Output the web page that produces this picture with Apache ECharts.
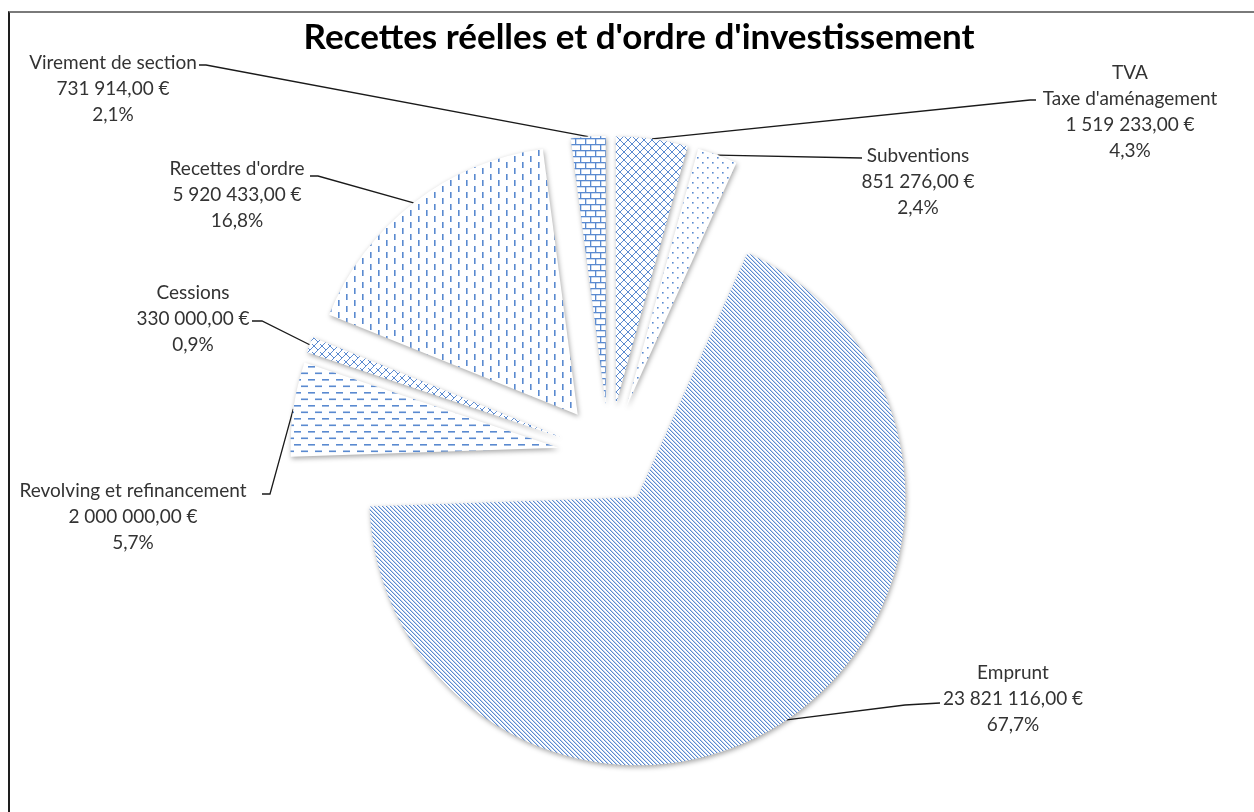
<!DOCTYPE html>
<html>
<head>
<meta charset="utf-8">
<script src="https://cdn.jsdelivr.net/npm/echarts@6/dist/echarts.min.js"></script>
<style>
  html, body { margin: 0; padding: 0; background: #fff; }
  #frame { position: absolute; left: 8px; top: 11px; width: 1400px; height: 900px;
           border-left: 2px solid #1e1e1e; border-top: 2px solid #7a7a7a; }
  #main { position: absolute; left: 0; top: 0; width: 1254px; height: 812px; }
</style>
</head>
<body>
<div id="frame"></div>
<div id="main"></div>
<script>
// data, clockwise from 12 o'clock
const categories = [
    "TVA\nTaxe d'aménagement",
    "Subventions",
    "Emprunt",
    "Revolving et refinancement",
    "Cessions",
    "Recettes d'ordre",
    "Virement de section"
];
const amounts = [1519233, 851276, 23821116, 2000000, 330000, 5920433, 731914];

// pie geometry (every slice pulled out from the center by OFF)
const CX = 609, CY = 455, R = 268, OFF = 51;
const PAT = '#5a8ad0';
const FONT = 'Lato';

// where each label sits: center x, first line y, and the leader line knee/end near the text
const labelSpots = [
    {x: 1130, y: 73, knee: [1030, 100], end: [1036, 100]},
    {x: 918, y: 156, knee: [862, 158], end: [862, 158]},
    {x: 1013, y: 673, knee: [905, 705], end: [940, 703]},
    {x: 133, y: 491, knee: [270, 494], end: [262, 494]},
    {x: 193, y: 293, knee: [262, 321], end: [252, 321]},
    {x: 237, y: 169, knee: [318, 176], end: [310, 176]},
    {x: 113, y: 63, knee: [206, 65], end: [199, 65]}
];

function makePattern(w, h, draw) {
    const c = document.createElement('canvas');
    c.width = w; c.height = h;
    const ctx = c.getContext('2d');
    ctx.fillStyle = '#ffffff';
    ctx.fillRect(0, 0, w, h);
    ctx.fillStyle = PAT;
    ctx.strokeStyle = PAT;
    ctx.lineWidth = 1;
    draw(ctx);
    return {image: c, repeat: 'repeat'};
}

const patterns = [
    // diamond lattice
    makePattern(8, 8, ctx => {
        ctx.beginPath();
        ctx.moveTo(0, 0); ctx.lineTo(8, 8);
        ctx.moveTo(8, 0); ctx.lineTo(0, 8);
        ctx.stroke();
    }),
    // sparse dots
    makePattern(10, 10, ctx => {
        ctx.fillRect(2, 2, 1.6, 1.6);
        ctx.fillRect(7, 7, 1.6, 1.6);
    }),
    // dense downward diagonal
    makePattern(4, 4, ctx => {
        for (let i = 0; i < 4; i++) {
            ctx.fillRect(i, i, 1, 1);
        }
        ctx.globalAlpha = 0.35;
        for (let i = 0; i < 4; i++) {
            ctx.fillRect((i + 1) % 4, i, 1, 1);
        }
    }),
    // horizontal dashes
    makePattern(14, 13, ctx => {
        ctx.fillRect(0, 2, 7, 1.6);
        ctx.fillRect(7, 8.5, 7, 1.6);
    }),
    // weave
    makePattern(8, 8, ctx => {
        ctx.beginPath();
        ctx.moveTo(0, 4); ctx.lineTo(4, 0);
        ctx.moveTo(4, 8); ctx.lineTo(8, 4);
        ctx.moveTo(2, 2); ctx.lineTo(6, 6);
        ctx.moveTo(0, 0); ctx.lineTo(2, 2);
        ctx.stroke();
    }),
    // vertical dashes
    makePattern(16, 12, ctx => {
        ctx.fillRect(2, 0, 1.6, 6);
        ctx.fillRect(10, 6, 1.6, 6);
    }),
    // bricks
    makePattern(10, 12, ctx => {
        ctx.fillRect(0, 0, 10, 1.3);
        ctx.fillRect(0, 6, 10, 1.3);
        ctx.fillRect(0, 0, 1.3, 6);
        ctx.fillRect(5, 6, 1.3, 6);
    })
];

const total = amounts.reduce((a, b) => a + b, 0);
let acc = 0;
const midAngles = amounts.map(v => {
    const m = (acc + v / 2) / total * 2 * Math.PI;
    acc += v;
    return m;
});

function fmtEuro(v) {
    const [i, d] = v.toFixed(2).split('.');
    return i.replace(/\B(?=(\d{3})+(?!\d))/g, ' ') + ',' + d + ' €';
}
function fmtPct(v) {
    return (v / total * 100).toFixed(1).replace('.', ',') + '%';
}

// one pie series per slice: same angles, only slice k drawn, its center pushed out along its mid angle
function sliceSeries(k) {
    const m = midAngles[k];
    return {
        type: 'pie',
        center: [CX + OFF * Math.sin(m), CY - OFF * Math.cos(m)],
        radius: [0, R],
        startAngle: 90,
        clockwise: true,
        silent: true,
        z: k === 2 ? 1 : 2,
        label: {show: false},
        labelLine: {show: false},
        labelLayout: p => {
            if (p.dataIndex !== k) return {};
            const s = labelSpots[k];
            const anchor = [CX + (R + OFF) * Math.sin(m), CY - (R + OFF) * Math.cos(m)];
            return {
                x: s.x,
                y: s.y - 13,
                align: 'center',
                verticalAlign: 'top',
                labelLinePoints: [anchor, s.knee, s.end]
            };
        },
        data: categories.map((name, i) => i === k ? {
            name: name,
            value: amounts[i],
            itemStyle: {
                color: patterns[i],
                borderWidth: 0,
                shadowBlur: 5,
                shadowColor: 'rgba(0,0,0,0.35)',
                shadowOffsetX: 1,
                shadowOffsetY: 2
            },
            label: {
                show: true,
                position: 'outside',
                fontFamily: FONT,
                fontSize: 19,
                lineHeight: 26,
                color: '#333333',
                formatter: p => p.name + '\n' + fmtEuro(p.value) + '\n' + fmtPct(p.value)
            },
            labelLine: {show: true, lineStyle: {color: '#1a1a1a', width: 1.3}}
        } : {
            name: name,
            value: amounts[i],
            itemStyle: {color: 'rgba(0,0,0,0)', borderWidth: 0}
        })
    };
}

const chart = echarts.init(document.getElementById('main'));
chart.setOption({
    animation: false,
    title: {
        text: "Recettes réelles et d'ordre d'investissement",
        left: 634,
        top: 15,
        textAlign: 'center',
        textStyle: {fontFamily: FONT, fontWeight: 'bold', fontSize: 35, color: '#000'}
    },
    series: categories.map((_, k) => sliceSeries(k))
});
</script>
</body>
</html>
